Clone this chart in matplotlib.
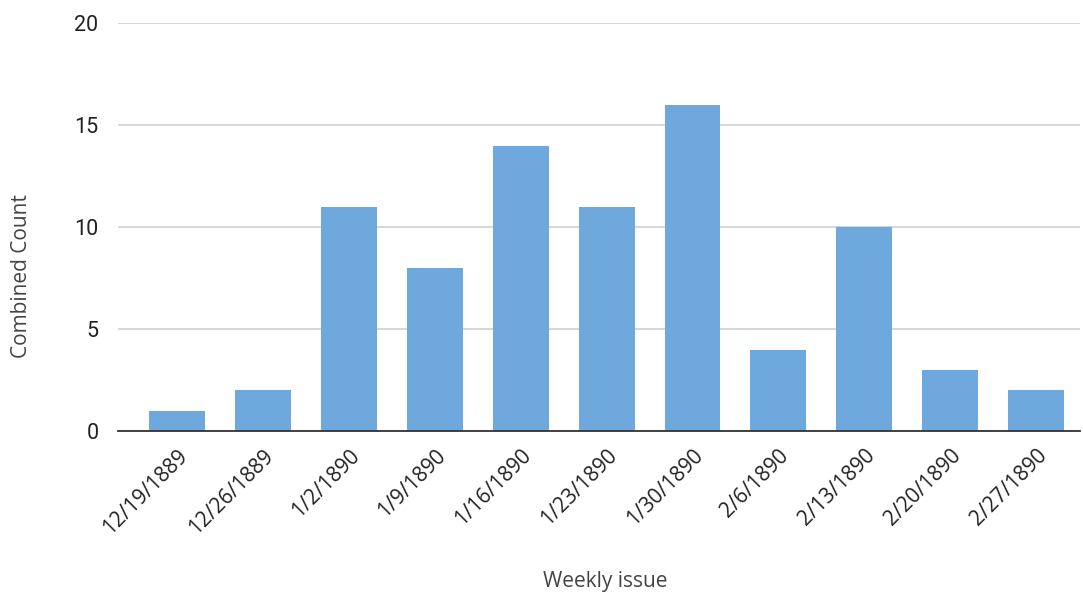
import matplotlib
matplotlib.use('Agg')
from matplotlib import pyplot as plt

issues = ['12/19/1889', '12/26/1889', '1/2/1890', '1/9/1890', '1/16/1890',
          '1/23/1890', '1/30/1890', '2/6/1890', '2/13/1890', '2/20/1890',
          '2/27/1890']
counts = [1, 2, 11, 8, 14, 11, 16, 4, 10, 3, 2]

plt.rcParams['font.family'] = ['Roboto', 'DejaVu Sans']

fig = plt.figure(figsize=(10.83, 5.94), dpi=100)
ax = fig.add_axes([0.109, 0.274, 0.888, 0.687])

x = list(range(len(issues)))
ax.bar(x, counts, width=0.65, color='#6fa8dc', zorder=3)

ax.set_ylim(0, 20)
ax.set_yticks([0, 5, 10, 15, 20])
ax.set_xlim(-0.69, 10.51)
ax.set_xticks(x)
ax.set_xticklabels(issues, rotation=45, ha='right', rotation_mode='anchor',
                   family=['Open Sans', 'DejaVu Sans'])

ax.grid(axis='y', color='#d0d0d0', linewidth=1.2, zorder=0)
for s in ['top', 'right', 'left']:
    ax.spines[s].set_visible(False)
ax.spines['bottom'].set_color('#333333')
ax.spines['bottom'].set_linewidth(1.3)
ax.spines['bottom'].set_zorder(4)
ax.tick_params(axis='y', length=0, labelsize=15.5, colors='#222222', pad=14)
ax.tick_params(axis='x', length=0, labelsize=15, colors='#222222', pad=10)

lab_font = ['Open Sans', 'DejaVu Sans']
ax.set_ylabel('Combined Count', fontsize=15, color='#444444', family=lab_font)
ax.yaxis.set_label_coords(-0.089, 0.38)
ax.set_xlabel('Weekly issue', fontsize=15, color='#444444', family=lab_font)
ax.xaxis.set_label_coords(0.507, -0.343)

fig.savefig('out.png', dpi=100)
